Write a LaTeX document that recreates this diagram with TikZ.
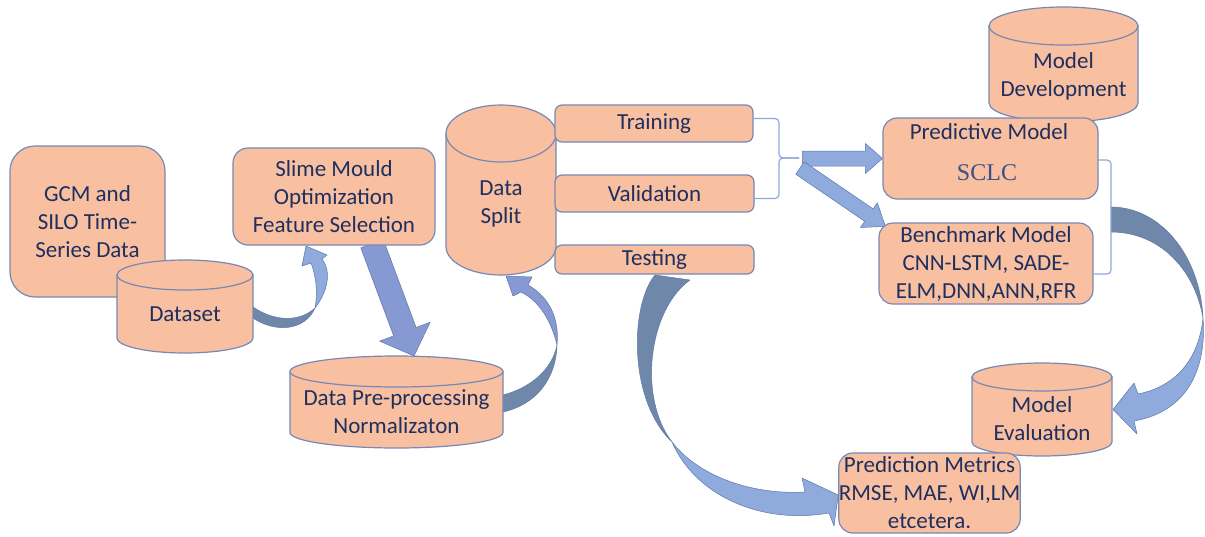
\documentclass[tikz,border=0pt]{standalone}
\usepackage{fontspec}
\setmainfont{Carlito}
\newfontfamily\sclcfont{Liberation Serif}
\usetikzlibrary{calc,backgrounds}
\definecolor{boxfill}{HTML}{F8BFA1}
\definecolor{boxline}{HTML}{7888B4}
\definecolor{txt}{HTML}{1F2F5E}
\definecolor{sclc}{HTML}{3C5088}
\definecolor{arrlight}{HTML}{8FAADC}
\definecolor{arrdark}{HTML}{6F87A9}
\definecolor{arrline}{HTML}{5E78A8}
\definecolor{arrpurple}{HTML}{8799D3}
\definecolor{brk}{HTML}{8EA9DB}
\tikzset{
 rbox/.style={draw=boxline, fill=boxfill, line width=1.2pt, rounded corners=#1, inner sep=0pt},
 rbox/.default=12pt,
 txtnode/.style={text=txt, font=\fontsize{23}{28}\selectfont, align=center, inner sep=0pt},
 cylframe/.style={inner sep=0pt, outer sep=0pt},
 cylst/.style={draw=boxline, fill=boxfill, line width=1.2pt},
 arrL/.style={fill=arrlight, draw=arrline, line width=0.5pt, line join=round},
 arrD/.style={fill=arrdark, draw=arrline, line width=0.5pt, line join=round},
 arrP/.style={fill=arrpurple, draw=arrline, line width=0.5pt, line join=round},
 brkline/.style={draw=brk, line width=1.2pt, rounded corners=4pt},
}
% cylinder drawn round a frame node: #1 name, #2 x radius, #3 y radius
\newcommand\drawcyl[3]{%
 \draw[cylst] ($(#1.north west)+(0,#3)$) -- ($(#1.south west)+(0,-#3)$)
   arc[start angle=180, end angle=360, x radius=#2pt, y radius=#3pt]
   -- ($(#1.north east)+(0,#3)$) -- cycle;
 \draw[cylst] ($(#1.north)+(0,#3)$) ellipse[x radius=#2pt, y radius=#3pt];
}
% straight block arrow: #1 style, #2 from, #3 to, #4 half shaft, #5 half head, #6 head length
\newcommand\blockarr[6][arrL]{%
 \coordinate (ba-h) at ($(#3)!#6!(#2)$);
 \path[#1] ($(#2)!#4!90:(#3)$) -- ($(ba-h)!#4!90:(#3)$) -- ($(ba-h)!#5!90:(#3)$) -- (#3)
   -- ($(ba-h)!#5!-90:(#3)$) -- ($(ba-h)!#4!-90:(#3)$) -- ($(#2)!#4!-90:(#3)$) -- cycle;
}
\begin{document}
\begin{tikzpicture}[x=1pt, y=-1pt]
\useasboundingbox (0,0) rectangle (1205,536);
\begin{scope}[on background layer]
 \fill[white] (0,0) rectangle (1205,536);
\end{scope}

% left column
\node[rbox=25pt, txtnode, minimum width=155pt, minimum height=151pt] (gcm) at (87.5,221.5) {GCM and\\SILO Time-\\Series Data};
\node[cylframe, minimum width=136pt, minimum height=93pt] (ds) at (185,306.5) {};
\drawcyl{ds}{68}{15}
\node[txtnode] (dsT) at (185,314) {Dataset};

\node[rbox=15pt, txtnode, minimum width=202pt, minimum height=97pt] (slime) at (334,196.5) {Slime Mould\\Optimization\\Feature Selection};

\node[cylframe, minimum width=213pt, minimum height=92pt] (pre) at (396.5,402) {};
\drawcyl{pre}{106.5}{15.5}
\node[txtnode] (preT) at (396.5,411.5) {Data Pre-processing\\Normalizaton};

% data split
\node[cylframe, minimum width=110pt, minimum height=170pt] (split) at (501,190) {};
\drawcyl{split}{55}{28.5}
\node[txtnode] (splitT) at (501,204) {Data\\Split};

\node[rbox=7pt, txtnode, minimum width=198pt, minimum height=37pt] (trn) at (654,123.5) {Training};
\node[rbox=7pt, txtnode, minimum width=199pt, minimum height=37pt] (val) at (654.5,193.5) {Validation};
\node[rbox=7pt, txtnode, minimum width=199pt, minimum height=29pt] (tst) at (654.5,259.5) {Testing};

% model development
\node[cylframe, minimum width=149pt, minimum height=115pt] (mdev) at (1063.5,64.5) {};
\drawcyl{mdev}{74.5}{19}
\node[txtnode] (mdevT) at (1063.5,76) {Model\\Development};

\node[rbox=14pt, minimum width=215pt, minimum height=81pt] (pred) at (990.5,158.5) {};
\node[txtnode] (predT) at (989,132) {Predictive Model};
\node[inner sep=0pt, text=sclc, font=\sclcfont\fontsize{24}{28}\selectfont] (sclcT) at (987,173) {SCLC};

\node[rbox=14pt, txtnode, minimum width=214pt, minimum height=81pt] (bench) at (986,263.5) {Benchmark Model\\CNN-LSTM, SADE-\\ELM,DNN,ANN,RFR};

% evaluation
\node[cylframe, minimum width=140pt, minimum height=93pt] (meval) at (1042,409.5) {};
\drawcyl{meval}{70}{14}
\node[txtnode] (mevalT) at (1042,418.5) {Model\\Evaluation};

\node[rbox=14pt, txtnode, minimum width=175pt, minimum height=80pt] (pm) at (929.5,493) {Prediction Metrics\\RMSE, MAE, WI,LM\\etcetera.};

% brackets
\coordinate (cusp) at (799,158);
\draw[brkline] ($(trn.east)+(0,-5)$) -- (779,118.5) -- (779,158) -- (cusp);
\draw[brkline] ($(val.east)+(0,5)$) -- (779,198.5) -- (779,158) -- (cusp);
\draw[brkline] ($(pred.east)+(0,1.5)$) -- (1111,160) -- (1111,274) -- ($(bench.east)+(0,10.5)$);

% arrows
\begin{scope}[on background layer]
 % dataset -> slime mould
 \path[arrD] (253,307) .. controls (275,322) and (300,322) .. (315,308)
   .. controls (305,331) and (275,333) .. (253,318) -- cycle;
 \path[arrL] (315,308) .. controls (329,290) and (331,270) .. (322,259) -- (327,255) -- (306,246)
   -- (302,266) -- (311,263) .. controls (316,276) and (318,292) .. (315,308) -- cycle;
 % slime mould -> pre-processing
 \coordinate (sA) at ($(slime.south)+(38,-2)$);
 \coordinate (sB) at ($(pre.north)+(17.5,0)$);
 \blockarr[arrP]{sA}{sB}{12pt}{27pt}{26pt}
 % pre-processing -> data split
 \path[arrD] (503,395) .. controls (530,388) and (552,370) .. (557,345)
   .. controls (556,380) and (535,405) .. (503,412) -- cycle;
 \path[arrP] (557,345) .. controls (560,315) and (546,295) .. (528,285) -- (532,277) -- (506,276)
   -- (513,296) -- (521,292) .. controls (539,301) and (551,320) .. (557,345) -- cycle;
 % split -> models
 \coordinate (hA) at ($(pred.west)+(-80,0)$);
 \blockarr[arrL]{hA}{pred.west}{7.5pt}{15pt}{17pt}
 \coordinate (dA) at (800,168);
 \coordinate (dB) at ($(bench.north west)+(7,4)$);
 \blockarr[arrL]{dA}{dB}{7.5pt}{15pt}{20pt}
 % testing -> prediction metrics
 \path[arrD] (655,275) .. controls (630,305) and (628,400) .. (672,442)
   .. controls (638,398) and (648,310) .. (690,280) -- cycle;
 \path[arrL] (672,442) .. controls (700,478) and (755,495) .. (805,492) -- (802,478) -- ($(pm.west)+(0,2)$)
   -- (834,526) -- (829,513) .. controls (760,525) and (695,495) .. (672,442) -- cycle;
 % models -> model evaluation
 \path[arrD] (1111,207) .. controls (1160,207) and (1200,255) .. (1203,318)
   .. controls (1195,270) and (1160,232) .. (1111,232) -- cycle;
 \path[arrL] (1203,318) .. controls (1207,372) and (1185,412) .. (1134,421) -- (1137,434)
   -- ($(meval.east)+(1,0)$) -- (1134,383) -- (1138,394) .. controls (1178,386) and (1199,357) .. (1203,318) -- cycle;
\end{scope}
\end{tikzpicture}
\end{document}
